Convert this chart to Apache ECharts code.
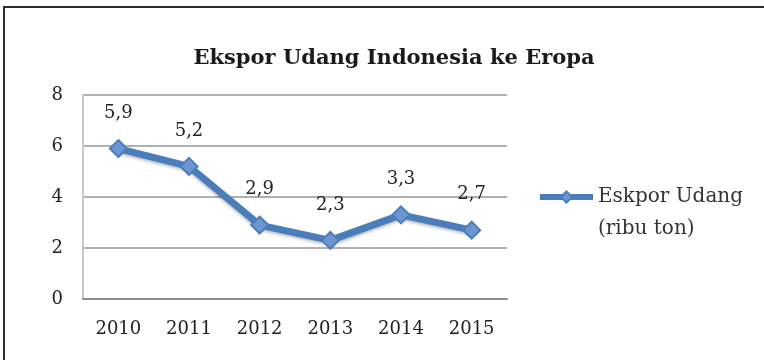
<!DOCTYPE html>
<html>
<head>
<meta charset="utf-8">
<script src="https://cdn.jsdelivr.net/npm/echarts@6/dist/echarts.min.js"></script>
<style>
  html, body { margin: 0; padding: 0; background: #fff; }
  #chart { width: 764px; height: 360px; }
</style>
</head>
<body>
<div id="chart"></div>
<script>
// Shrimp exports from Indonesia to Europe, thousand tonnes per year
const years = ['2010', '2011', '2012', '2013', '2014', '2015'];
const exportValues = [5.9, 5.2, 2.9, 2.3, 3.3, 2.7];
const seriesName = 'Eskpor Udang\n(ribu ton)';
const chartTitle = 'Ekspor Udang Indonesia ke Eropa';
const yTicks = { min: 0, max: 8, step: 2 };

const serif = '"DejaVu Serif", "Liberation Serif", serif';
const lineBlue = '#4a7ebb';

const chart = echarts.init(document.getElementById('chart'), null, { renderer: 'canvas' });
chart.setOption({
  backgroundColor: '#fff',
  animation: false,
  graphic: [{
    type: 'polyline',
    shape: { points: [[4, 420], [4, 7], [820, 7]] },
    style: { fill: 'none', stroke: '#2b2b2b', lineWidth: 2 },
    silent: true
  }],
  title: {
    text: chartTitle,
    left: 389,
    top: 43,
    textAlign: 'center',
    textStyle: { fontFamily: serif, fontWeight: 'bold', fontSize: 21, color: '#1a1a1a' }
  },
  grid: { left: 83, top: 95, width: 424, height: 204, containLabel: false },
  legend: {
    data: [seriesName],
    left: 532,
    top: 144,
    itemWidth: 53,
    itemHeight: 14,
    itemGap: 4,
    formatter: name => '\n' + name,
    lineStyle: { width: 6 },
    textStyle: { fontFamily: serif, fontSize: 20, color: '#333', lineHeight: 32 }
  },
  xAxis: {
    type: 'category',
    data: years,
    boundaryGap: true,
    axisLine: { show: true, lineStyle: { color: '#8c8c8c', width: 2 } },
    axisTick: { show: false },
    axisLabel: { fontFamily: serif, fontSize: 18, color: '#222', margin: 21 }
  },
  yAxis: {
    type: 'value',
    min: yTicks.min,
    max: yTicks.max,
    interval: yTicks.step,
    axisLine: { show: true, lineStyle: { color: '#c8c8c8', width: 2 } },
    axisTick: { show: false },
    axisLabel: { fontFamily: serif, fontSize: 18, color: '#222', margin: 20 },
    splitLine: { lineStyle: { color: '#b0b0b0', width: 2 } }
  },
  series: [{
    name: seriesName,
    type: 'line',
    data: exportValues,
    symbol: 'diamond',
    symbolSize: 17,
    lineStyle: { color: lineBlue, width: 7, shadowColor: 'rgba(0,0,0,0.25)', shadowBlur: 3, shadowOffsetY: 2 },
    itemStyle: { color: '#6c96d2', borderColor: lineBlue, borderWidth: 2 },
    label: {
      show: true,
      position: 'top',
      distance: 17,
      fontFamily: serif,
      fontSize: 18,
      color: '#222',
      formatter: p => String(p.value).replace('.', ',')
    }
  }]
});
</script>
</body>
</html>
